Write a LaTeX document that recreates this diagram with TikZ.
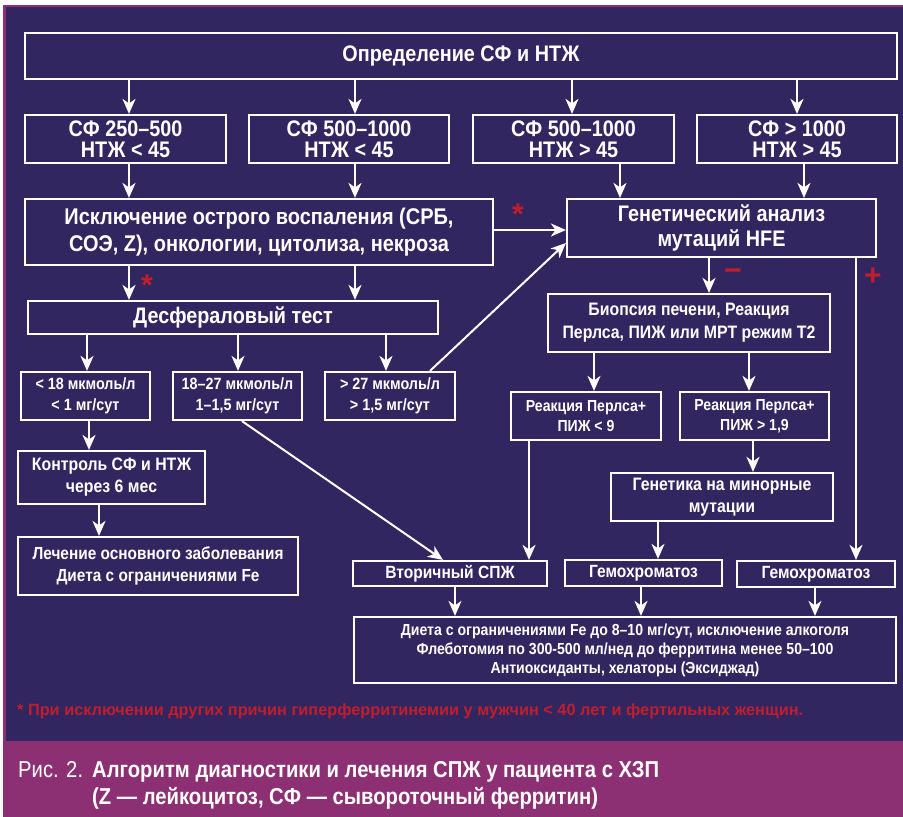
\documentclass[tikz,border=0pt]{standalone}
\usepackage{fontspec}
\setmainfont{Liberation Sans}
\newfontfamily\fc{Liberation Sans}[FakeStretch=0.88]
\usetikzlibrary{arrows.meta}
\definecolor{navy}{RGB}{50,38,96}
\definecolor{mag}{RGB}{141,48,115}
\definecolor{redc}{RGB}{192,30,45}
\begin{document}
\begin{tikzpicture}[x=1pt,y=-1pt,
  box/.style={draw=white,line width=2.2pt,text=white,align=center,inner sep=0pt},
  arr/.style={draw=white,line width=2pt,-{Stealth[length=15pt,width=13pt,inset=4.5pt]}},
  fbig/.style={font=\fc\bfseries\fontsize{22.5}{21}\selectfont},
  fmid/.style={font=\fc\bfseries\fontsize{18}{22}\selectfont},
  fsm/.style={font=\fc\bfseries\fontsize{16.3}{21}\selectfont},
  fdiet/.style={font=\fc\bfseries\fontsize{16}{19}\selectfont},
  redmark/.style={text=redc,font=\bfseries\fontsize{30}{30}\selectfont,inner sep=0pt}
]
\useasboundingbox (0,0) rectangle (903,817);
% background
\fill[white] (0,0) rectangle (903,817);
\fill[mag] (3,5) rectangle (903,817);
\fill[navy] (6,7) rectangle (903,741);

% nodes
\node[box,fbig,minimum width=872pt,minimum height=46pt] (top) at (461,56) {Определение СФ и НТЖ};
\node[box,fbig,minimum width=201pt,minimum height=48pt] (A) at (125.5,139) {СФ 250–500\\НТЖ < 45};
\node[box,fbig,minimum width=200pt,minimum height=48pt] (B) at (349,139) {СФ 500–1000\\НТЖ < 45};
\node[box,fbig,minimum width=201pt,minimum height=48pt] (C) at (573.5,139) {СФ 500–1000\\НТЖ > 45};
\node[box,fbig,minimum width=200pt,minimum height=48pt] (D) at (797,139) {СФ > 1000\\НТЖ > 45};
\node[box,font=\fc\bfseries\fontsize{22.7}{27}\selectfont,minimum width=468pt,minimum height=66pt] (excl) at (259,232) {Исключение острого воспаления (СРБ,\\СОЭ, Z), онкологии, цитолиза, некроза};
\node[box,font=\fc\bfseries\fontsize{22.5}{25}\selectfont,minimum width=309pt,minimum height=58pt] (gen) at (721.5,228) {Генетический анализ\\мутаций HFE};
\node[box,fbig,minimum width=410pt,minimum height=33pt] (desf) at (233,317.5) {Десфераловый тест};
\node[box,fsm,minimum width=129pt,minimum height=48pt] (r4a) at (85.5,396) {< 18 мкмоль/л\\< 1 мг/сут};
\node[box,fsm,minimum width=129pt,minimum height=48pt] (r4b) at (237.5,396) {18–27 мкмоль/л\\1–1,5 мг/сут};
\node[box,fsm,minimum width=130pt,minimum height=48pt] (r4c) at (390,396) {> 27 мкмоль/л\\> 1,5 мг/сут};
\node[box,fmid,minimum width=187pt,minimum height=53pt] (kon) at (111.5,477.5) {Контроль СФ и НТЖ\\через 6 мес};
\node[box,font=\fc\bfseries\fontsize{17.5}{22}\selectfont,minimum width=280pt,minimum height=58pt] (lech) at (158,566) {Лечение основного заболевания\\Диета с ограничениями Fe};
\node[box,font=\fc\bfseries\fontsize{18}{23}\selectfont,minimum width=282pt,minimum height=58pt] (biop) at (689,323) {Биопсия печени, Реакция\\Перлса, ПИЖ или МРТ режим Т2};
\node[box,font=\fc\bfseries\fontsize{16}{20}\selectfont,minimum width=150pt,minimum height=48pt] (p9) at (586,416) {Реакция Перлса+\\ПИЖ < 9};
\node[box,font=\fc\bfseries\fontsize{16}{20}\selectfont,minimum width=149pt,minimum height=48pt] (p19) at (754.5,416) {Реакция Перлса+\\ПИЖ > 1,9};
\node[box,fmid,minimum width=222pt,minimum height=48pt] (genet) at (722,497) {Генетика на минорные\\мутации};
\node[box,font=\fc\bfseries\fontsize{17.7}{20}\selectfont,minimum width=194pt,minimum height=25pt] (vtor) at (450,573.5) {Вторичный СПЖ};
\node[box,font=\fc\bfseries\fontsize{17.7}{20}\selectfont,minimum width=157pt,minimum height=26pt] (gem1) at (643.5,573) {Гемохроматоз};
\node[box,font=\fc\bfseries\fontsize{17.7}{20}\selectfont,minimum width=158pt,minimum height=26pt] (gem2) at (816,574) {Гемохроматоз};
\node[box,fdiet,minimum width=542pt,minimum height=66pt] (diet) at (625,650) {Диета с ограничениями Fe до 8–10 мг/сут, исключение алкоголя\\Флеботомия по 300-500 мл/нед до ферритина менее 50–100\\Антиоксиданты, хелаторы (Эксиджад)};

% column helpers
\coordinate (c129) at (129,0);
\coordinate (c355) at (355,0);
\coordinate (c572) at (572,0);
\coordinate (c620) at (620,0);
\coordinate (c797) at (797,0);
\coordinate (c804) at (804,0);
\coordinate (c87) at (87,0);
\coordinate (c238) at (238,0);
\coordinate (c386) at (386,0);
\coordinate (c89) at (89,0);
\coordinate (c99) at (99,0);
\coordinate (c242) at (242,0);
\coordinate (c443) at (443,0);
\coordinate (c430) at (430,0);
\coordinate (c709) at (709,0);
\coordinate (c856) at (856,0);
\coordinate (c594) at (594,0);
\coordinate (c749) at (749,0);
\coordinate (c529) at (529,0);
\coordinate (c753) at (753,0);
\coordinate (c658) at (658,0);
\coordinate (c455) at (455,0);
\coordinate (c641) at (641,0);
\coordinate (c815) at (815,0);
\coordinate (r230) at (0,230);
\coordinate (r243) at (0,243);

% arrows
\draw[arr] (c129 |- top.south) -- (c129 |- A.north);
\draw[arr] (c355 |- top.south) -- (c355 |- B.north);
\draw[arr] (c572 |- top.south) -- (c572 |- C.north);
\draw[arr] (c797 |- top.south) -- (c797 |- D.north);
\draw[arr] (c129 |- A.south) -- (c129 |- excl.north);
\draw[arr] (c355 |- B.south) -- (c355 |- excl.north);
\draw[arr] (c620 |- C.south) -- (c620 |- gen.north);
\draw[arr] (c804 |- D.south) -- (c804 |- gen.north);
\draw[arr] (excl.east |- r230) -- (gen.west |- r230);
\draw[arr] (c129 |- excl.south) -- (c129 |- desf.north);
\draw[arr] (c355 |- excl.south) -- (c355 |- desf.north);
\draw[arr] (c87 |- desf.south) -- (c87 |- r4a.north);
\draw[arr] (c238 |- desf.south) -- (c238 |- r4b.north);
\draw[arr] (c386 |- desf.south) -- (c386 |- r4c.north);
\draw[arr] (c89 |- r4a.south) -- (c89 |- kon.north);
\draw[arr] (c99 |- kon.south) -- (c99 |- lech.north);
\draw[arr] (c242 |- r4b.south) -- (c443 |- vtor.north);
\draw[arr] (c430 |- r4c.north) -- (gen.west |- r243);
\draw[arr] (c709 |- gen.south) -- (c709 |- biop.north);
\draw[arr] (c856 |- gen.south) -- (c856 |- gem2.north);
\draw[arr] (c594 |- biop.south) -- (c594 |- p9.north);
\draw[arr] (c749 |- biop.south) -- (c749 |- p19.north);
\draw[arr] (c529 |- p9.south) -- (c529 |- vtor.north);
\draw[arr] (c753 |- p19.south) -- (c753 |- genet.north);
\draw[arr] (c658 |- genet.south) -- (c658 |- gem1.north);
\draw[arr] (c455 |- vtor.south) -- (c455 |- diet.north);
\draw[arr] (c641 |- gem1.south) -- (c641 |- diet.north);
\draw[arr] (c815 |- gem2.south) -- (c815 |- diet.north);

% red marks
\node[redmark] (star1) at (518,214) {*};
\node[redmark] (star2) at (147,285) {*};
\node[redmark] (minus) at (733,275) {−};
\node[redmark] (plus) at (873,277) {+};

% footnote
\node[anchor=base west,inner sep=0pt,text=redc,font=\bfseries\fontsize{16.3}{20}\selectfont] (foot) at (17,715) {* При исключении других причин гиперферритинемии у мужчин < 40 лет и фертильных женщин.};

% caption
\node[anchor=base west,inner sep=0pt,text=white,font=\fc\fontsize{23}{27}\selectfont] (cap0) at (18,777) {Рис. 2.};
\node[anchor=base west,inner sep=0pt,text=white,font=\fc\bfseries\fontsize{23}{27}\selectfont] (cap1) at (92,777) {Алгоритм диагностики и лечения СПЖ у пациента с ХЗП};
\node[anchor=base west,inner sep=0pt,text=white,font=\fc\bfseries\fontsize{23}{27}\selectfont] (cap2) at (92,804) {(Z — лейкоцитоз, СФ — сывороточный ферритин)};
\end{tikzpicture}
\end{document}
